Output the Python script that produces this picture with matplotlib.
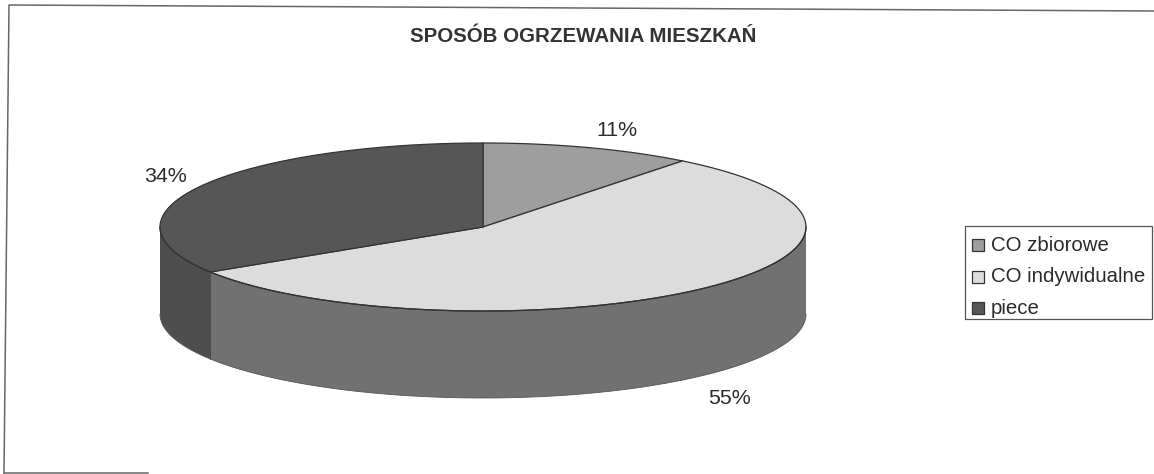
import numpy as np
import matplotlib
matplotlib.use("Agg")
import matplotlib.pyplot as plt
from matplotlib.patches import Polygon, Rectangle

plt.rcParams['font.family'] = ['Liberation Sans', 'DejaVu Sans']

title = "SPOSÓB OGRZEWANIA MIESZKAŃ"
categories = ["CO zbiorowe", "CO indywidualne", "piece"]
shares = [10.6, 55.4, 34.0]
share_labels = ["11%", "55%", "34%"]

top_colors = ["#9e9e9e", "#dcdcdc", "#565656"]
side_colors = ["#6a6a6a", "#717171", "#4e4e4e"]

cx, cy = 483, 227
rx, ry = 323, 84
depth = 87


def rim(t0, t1):
    t = np.radians(np.linspace(t0, t1, 200))
    return np.column_stack([cx + rx*np.cos(t), cy - ry*np.sin(t)])


fig = plt.figure(figsize=(11.54, 4.74), dpi=100)
ax = fig.add_axes([0, 0, 1, 1])
ax.set_xlim(0, 1154)
ax.set_ylim(474, 0)
ax.axis('off')

# slice angles, clockwise from 12 o'clock
edges = 90 - np.cumsum([0] + shares) * 3.6

# side walls, only the part facing us (angles between 180 and 360)
for i in range(len(shares)):
    hi, lo = edges[i] % 360, edges[i+1] % 360
    if hi <= lo:
        hi += 360
    a = max(lo, 180)
    b = min(hi, 360)
    if a < b:
        pts = rim(a, b)
        wall = np.vstack([pts, (pts + [0, depth])[::-1]])
        ax.add_patch(Polygon(wall, closed=True, fc=side_colors[i], ec='none', zorder=2))

# top faces
for i in range(len(shares)):
    pts = np.vstack([[cx, cy], rim(edges[i], edges[i+1])])
    ax.add_patch(Polygon(pts, closed=True, fc=top_colors[i], ec='#333333', lw=0.9, zorder=3))

# outline of the cylinder
ax.plot(*rim(180, 360).T, color='#333333', lw=0.9, zorder=4)
ax.plot(*(rim(180, 360) + [0, depth]).T, color='#555555', lw=0.6, zorder=4)

# wall edge between piece and CO indywidualne
p = rim(edges[2], edges[2])[0]
ax.plot([p[0], p[0]], [p[1], p[1]+depth], color='#444444', lw=0.6, zorder=4)

ax.text(583.5, 36, title, ha='center', va='center', fontsize=14.8, fontweight='bold', color='#333333')

label_pos = [(617, 131), (730, 398), (166, 177)]
for s, (x, y) in zip(share_labels, label_pos):
    ax.text(x, y, s, ha='center', va='center', fontsize=15.4, color='#2a2a2a')

# legend
ax.add_patch(Rectangle((965, 226), 187, 93, fc='white', ec='#555555', lw=0.9, zorder=2))
for i, name in enumerate(categories):
    y = 245 + i*31.5
    ax.add_patch(Rectangle((972, y-6), 12, 12, fc=top_colors[i], ec='#333333', lw=0.9, zorder=3))
    ax.text(991, y, name, ha='left', va='center', fontsize=14.7, color='#2a2a2a')

# scanned frame, it is not straight and the right and bottom sides are gone
ax.plot([4, 9, 1154], [473, 5, 11], color='#666666', lw=1.1)
ax.plot([4, 148], [473, 473], color='#666666', lw=1.1)

fig.savefig("out.png", dpi=100)
